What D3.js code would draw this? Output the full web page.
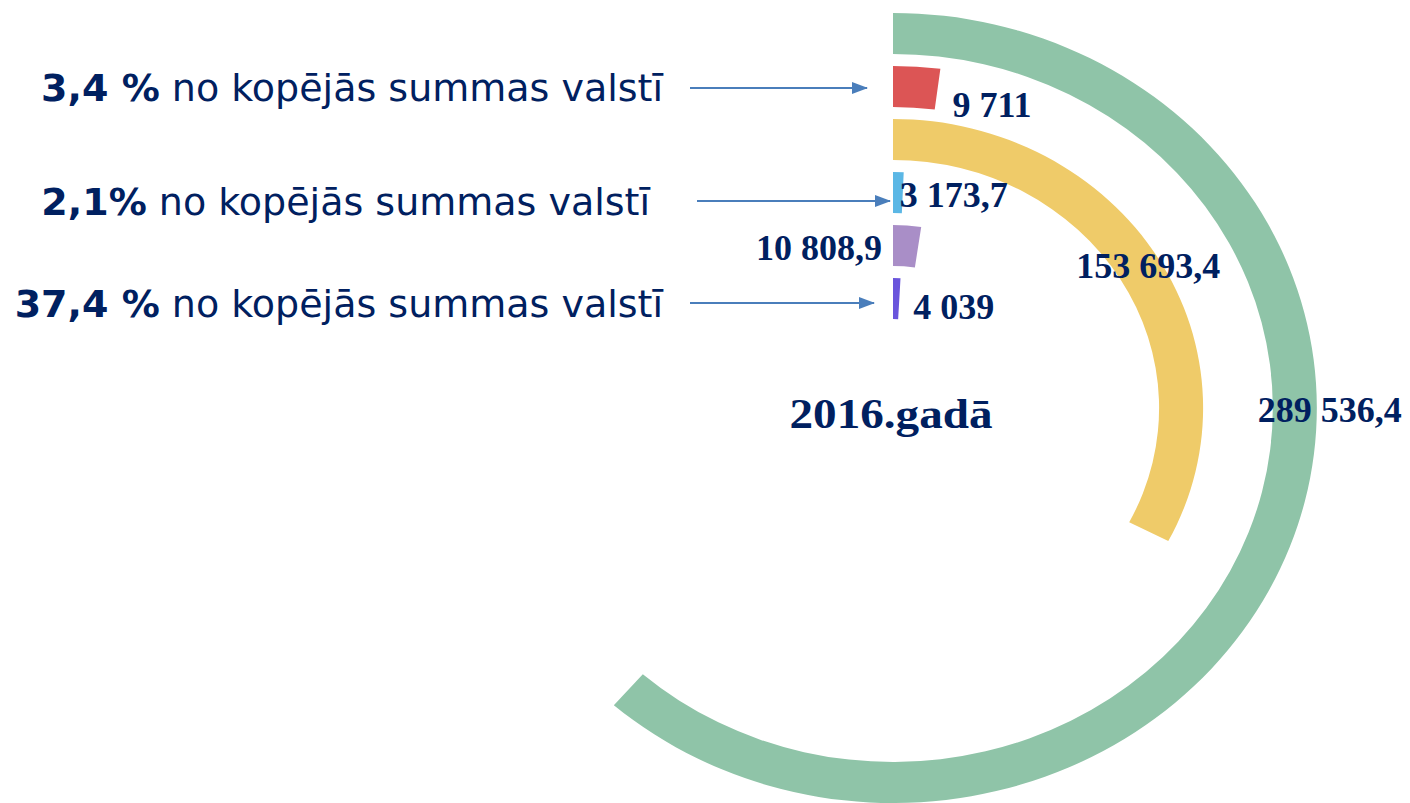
<!DOCTYPE html>
<html>
<head>
<meta charset="utf-8">
<script src="https://cdn.jsdelivr.net/npm/d3@7"></script>
<style>
  html, body { margin: 0; padding: 0; background: #ffffff; }
  svg { display: block; }
</style>
</head>
<body>
<svg id="chart" width="1410" height="803"></svg>
<script>
// ---- data ----
const categories = ["A", "B", "C", "D", "E", "F"];
const values = [289536.4, 9711, 153693.4, 3173.7, 10808.9, 4039];
const valueLabels = ["289 536,4", "9 711", "153 693,4", "3 173,7", "10 808,9", "4 039"];
const colors = ["#8fc4a8", "#dc5555", "#efcb69", "#5bb7e5", "#a98ec7", "#6a55dc"];
const centerTitle = "2016.gadā";
const notePercents = ["3,4 %", "2,1%", "37,4 %"];
const noteText = " no kopējās summas valstī";

// ---- layout ----
const svg = d3.select("#chart");
const cx = 893, cy = 408, sx = 1.073;
const navy = "#002060";

const rScale = d3.scaleBand().domain(categories).range([395, 89]).paddingInner(0.226).paddingOuter(0);
const aScale = d3.scaleLinear().domain([0, d3.max(values)]).range([0, 221.2 * Math.PI / 180]);

const arc = d3.arc()
  .innerRadius(d => rScale(d.cat))
  .outerRadius(d => rScale(d.cat) + rScale.bandwidth())
  .startAngle(0)
  .endAngle(d => aScale(d.value));

const data = categories.map((c, i) => ({cat: c, value: values[i], label: valueLabels[i], color: colors[i]}));

const g = svg.append("g").attr("transform", `translate(${cx},${cy}) scale(${sx},1)`);
g.selectAll("path").data(data).enter().append("path")
  .attr("d", arc)
  .attr("fill", d => d.color);

// polar helper in page coordinates
function polar(angle, r) {
  return [cx + Math.sin(angle) * r * sx, cy - Math.cos(angle) * r];
}
const midR = c => rScale(c) + rScale.bandwidth() / 2;

// value labels
const labelPlace = {
  A: d => { const p = polar(Math.PI / 2, midR(d.cat)); return {x: p[0] + 35, y: p[1] + 14, anchor: "middle"}; },
  B: d => { const p = polar(aScale(d.value), midR(d.cat)); return {x: p[0] + 15, y: p[1] + 28, anchor: "start"}; },
  C: d => { const p = polar(aScale(d.value) / 2, midR(d.cat)); return {x: p[0] + 9, y: p[1] + 9, anchor: "middle"}; },
  D: d => { const p = polar(aScale(d.value), midR(d.cat)); return {x: p[0] - 3, y: p[1] + 14, anchor: "start"}; },
  E: d => { const p = polar(0, midR(d.cat)); return {x: p[0] - 11, y: p[1] + 15, anchor: "end"}; },
  F: d => { const p = polar(aScale(d.value), midR(d.cat)); return {x: p[0] + 14, y: p[1] + 20, anchor: "start"}; }
};

svg.append("g").selectAll("text").data(data).enter().append("text")
  .each(function(d) {
    const p = labelPlace[d.cat](d);
    d3.select(this).attr("x", p.x).attr("y", p.y).attr("text-anchor", p.anchor);
  })
  .attr("font-family", "'Liberation Serif', 'Times New Roman', serif")
  .attr("font-weight", "bold")
  .attr("font-size", 36)
  .attr("fill", navy)
  .text(d => d.label);

// center title
svg.append("text")
  .attr("x", cx - 2).attr("y", 428)
  .attr("text-anchor", "middle")
  .attr("font-family", "'Liberation Serif', 'Times New Roman', serif")
  .attr("font-weight", "bold")
  .attr("font-size", 42)
  .attr("textLength", 203)
  .attr("lengthAdjust", "spacingAndGlyphs")
  .attr("fill", navy)
  .text(centerTitle);

// notes with arrows
const defs = svg.append("defs");
defs.append("marker")
  .attr("id", "arrowhead")
  .attr("viewBox", "0 0 16 12")
  .attr("refX", 15).attr("refY", 6)
  .attr("markerWidth", 16).attr("markerHeight", 12)
  .attr("markerUnits", "userSpaceOnUse")
  .attr("orient", "auto")
  .append("path").attr("d", "M0,0 L16,6 L0,12 Z").attr("fill", "#4a7ebb");

const noteLayout = [
  {textEnd: 663, baseline: 101, x1: 690, x2: 867, y: 88},
  {textEnd: 650, baseline: 215, x1: 697, x2: 890, y: 201},
  {textEnd: 663, baseline: 317, x1: 690, x2: 874, y: 303}
];

notePercents.forEach((pct, i) => {
  const L = noteLayout[i];
  const t = svg.append("text")
    .attr("x", L.textEnd).attr("y", L.baseline)
    .attr("text-anchor", "end")
    .attr("font-family", "Verdana, 'DejaVu Sans', sans-serif")
    .attr("font-size", 38)
    .attr("fill", navy);
  t.append("tspan").attr("font-weight", "bold").text(pct);
  t.append("tspan").text(noteText);
  svg.append("line")
    .attr("x1", L.x1).attr("x2", L.x2)
    .attr("y1", L.y).attr("y2", L.y)
    .attr("stroke", "#4a7ebb").attr("stroke-width", 2)
    .attr("marker-end", "url(#arrowhead)");
});
</script>
</body>
</html>
